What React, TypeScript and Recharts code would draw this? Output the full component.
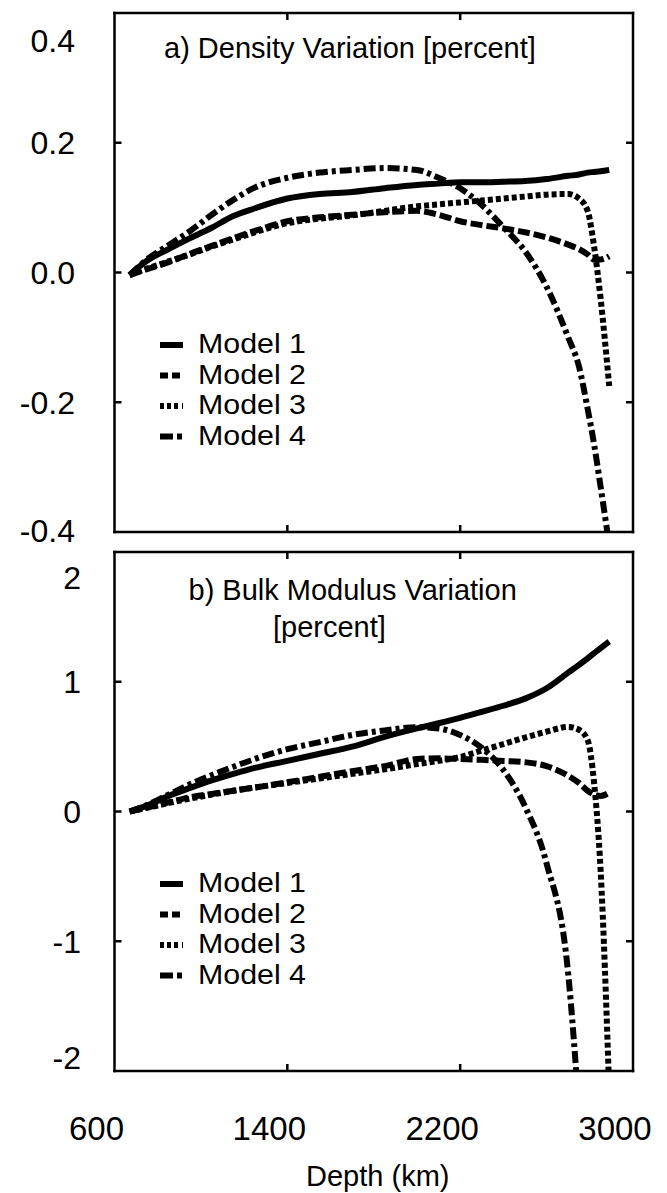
import React from "react";
import { LineChart, Line, XAxis, YAxis, Legend } from "recharts";

// depth grid (km) shared by all curves
const depths = [670, 750, 850, 950, 1050, 1150, 1250, 1400, 1550, 1700, 1850, 2000, 2100, 2200, 2300, 2400, 2500, 2600, 2700, 2750, 2790, 2820, 2850, 2890];

// a) density variation [percent]
const densityModel1 = [-0.004, 0.018, 0.036, 0.053, 0.069, 0.087, 0.099, 0.114, 0.121, 0.124, 0.13, 0.135, 0.137, 0.139, 0.139, 0.14, 0.141, 0.144, 0.149, 0.151, 0.154, 0.155, 0.156, 0.158];
const densityModel2 = [-0.004, 0.005, 0.016, 0.029, 0.041, 0.053, 0.064, 0.079, 0.085, 0.089, 0.093, 0.095, 0.089, 0.079, 0.073, 0.068, 0.062, 0.054, 0.043, 0.036, 0.028, 0.02, 0.02, 0.025];
const densityModel3 = [-0.004, 0.006, 0.017, 0.028, 0.04, 0.051, 0.062, 0.076, 0.083, 0.088, 0.095, 0.102, 0.105, 0.108, 0.111, 0.114, 0.117, 0.12, 0.121, 0.114, 0.095, 0.04, -0.04, -0.175];
const densityModel4 = [-0.004, 0.02, 0.042, 0.064, 0.089, 0.112, 0.131, 0.146, 0.154, 0.158, 0.161, 0.158, 0.146, 0.13, 0.104, 0.07, 0.033, -0.022, -0.1, -0.145, -0.21, -0.265, -0.33, -0.42];

// b) bulk modulus variation [percent]
const bulkModel1 = [0, 0.045, 0.12, 0.182, 0.24, 0.29, 0.336, 0.39, 0.445, 0.5, 0.575, 0.64, 0.68, 0.722, 0.768, 0.815, 0.87, 0.95, 1.07, 1.13, 1.18, 1.22, 1.26, 1.31];
const bulkModel2 = [0, 0.03, 0.07, 0.11, 0.135, 0.16, 0.185, 0.225, 0.268, 0.31, 0.35, 0.405, 0.41, 0.405, 0.398, 0.39, 0.38, 0.35, 0.275, 0.22, 0.16, 0.13, 0.12, 0.145];
const bulkModel3 = [0, 0.028, 0.065, 0.1, 0.13, 0.16, 0.185, 0.22, 0.255, 0.29, 0.325, 0.365, 0.39, 0.42, 0.47, 0.52, 0.57, 0.615, 0.652, 0.63, 0.55, 0.22, -0.45, -2.15];
const bulkModel4 = [0, 0.05, 0.13, 0.21, 0.28, 0.345, 0.405, 0.48, 0.535, 0.59, 0.625, 0.65, 0.64, 0.59, 0.49, 0.32, 0.04, -0.4, -1.25, -2.3, null, null, null, null];

const depthTicks = [600, 1400, 2200, 3000];
const densityTicks = [-0.4, -0.2, 0, 0.2, 0.4];
const bulkTicks = [-2, -1, 0, 1, 2];
const modelNames = ["Model 1", "Model 2", "Model 3", "Model 4"];

const FONT = "'Liberation Sans', Arial, Helvetica, sans-serif";
const INK = "#000";
const lineDash = ["", "12 4", "5 3", "12 4 4 4"];
const legendDash = ["", "8 4 8", "4 3 4 3 4", "13 4 5"];
const TICK = 7;

function buildRows(series: (number | null)[][]) {
  return depths.map((depth, i) => {
    const row: Record<string, number | null> = { depth };
    series.forEach((s, k) => {
      row["m" + (k + 1)] = s[i];
    });
    return row;
  });
}

const densityRows = buildRows([densityModel1, densityModel2, densityModel3, densityModel4]);
const bulkRows = buildRows([bulkModel1, bulkModel2, bulkModel3, bulkModel4]);

// legend rows are packed tight in the original, text a bit wide
function ModelLegend() {
  const step = 30.5;
  return (
    <svg width={210} height={130}>
      {modelNames.map((name, i) => (
        <g key={name}>
          <line x1={5} x2={28} y1={20 + step * i} y2={20 + step * i} stroke={INK} strokeWidth={6} strokeDasharray={legendDash[i] || undefined} />
          <text
            x={43}
            y={28 + step * i}
            fontSize={27}
            fontFamily={FONT}
            fill={INK}
            textLength={108}
            lengthAdjust="spacingAndGlyphs"
          >
            {name}
          </text>
        </g>
      ))}
    </svg>
  );
}

type PanelProps = {
  rows: Record<string, number | null>[];
  yDomain: [number, number];
  yTicks: number[];
  fmt: (v: number) => string;
  height: number;
  margin: { top: number; right: number; bottom: number; left: number };
  bottomAxisHeight: number;
  labelGap: number;
  topShift: number;
  bottomShift: number;
  showDepth: boolean;
  legendTop: number;
};

function Panel(p: PanelProps) {
  const [lo, hi] = p.yDomain;
  const frame = { stroke: INK, strokeWidth: 2.5, strokeLinecap: "square" as const };

  const leftTick = (t: any) => {
    const v = t.payload.value;
    const edge = v === lo || v === hi;
    const shift = v === hi ? p.topShift : v === lo ? p.bottomShift : 0;
    return (
      <g>
        {!edge && <line x1={t.x} x2={t.x + TICK} y1={t.y} y2={t.y} stroke={INK} strokeWidth={2.5} />}
        <text x={t.x - p.labelGap} y={t.y + shift + 11.5} textAnchor="end" fontSize={32} fontFamily={FONT} fill={INK}>
          {p.fmt(v)}
        </text>
      </g>
    );
  };

  const rightTick = (t: any) => {
    const v = t.payload.value;
    if (v === lo || v === hi) return <g />;
    return <line x1={t.x} x2={t.x - TICK} y1={t.y} y2={t.y} stroke={INK} strokeWidth={2.5} />;
  };

  const topTick = (t: any) => {
    const v = t.payload.value;
    if (v === 600 || v === 3000) return <g />;
    return <line x1={t.x} x2={t.x} y1={t.y} y2={t.y + TICK} stroke={INK} strokeWidth={2.5} />;
  };

  const bottomTick = (t: any) => {
    const v = t.payload.value;
    const edge = v === 600 || v === 3000;
    return (
      <g>
        {!edge && <line x1={t.x} x2={t.x} y1={t.y} y2={t.y - TICK} stroke={INK} strokeWidth={2.5} />}
        {p.showDepth && (
          <text x={t.x - 18} y={t.y + 69} textAnchor="middle" fontSize={33} fontFamily={FONT} fill={INK}>
            {v}
          </text>
        )}
      </g>
    );
  };

  return (
    <LineChart width={667} height={p.height} data={p.rows} margin={p.margin}>
      <XAxis
        dataKey="depth"
        type="number"
        domain={[600, 3000]}
        ticks={depthTicks}
        interval={0}
        allowDataOverflow
        height={p.bottomAxisHeight}
        axisLine={frame}
        tickLine={false}
        tickSize={0}
        tickMargin={0}
        tick={bottomTick}
        label={
          p.showDepth
            ? { value: "Depth (km)", position: "insideBottom", offset: -5, dx: 4, fontSize: 29, fontFamily: FONT, fill: INK }
            : undefined
        }
      />
      <XAxis
        xAxisId="top"
        orientation="top"
        dataKey="depth"
        type="number"
        domain={[600, 3000]}
        ticks={depthTicks}
        interval={0}
        allowDataOverflow
        height={5}
        axisLine={frame}
        tickLine={false}
        tickSize={0}
        tickMargin={0}
        tick={topTick}
      />
      <YAxis
        type="number"
        domain={p.yDomain}
        ticks={p.yTicks}
        interval={0}
        allowDataOverflow
        width={60}
        axisLine={frame}
        tickLine={false}
        tickSize={0}
        tickMargin={0}
        tick={leftTick}
      />
      <YAxis
        yAxisId="right"
        orientation="right"
        type="number"
        domain={p.yDomain}
        ticks={p.yTicks}
        interval={0}
        allowDataOverflow
        width={10}
        axisLine={frame}
        tickLine={false}
        tickSize={0}
        tickMargin={0}
        tick={rightTick}
      />
      <Legend
        content={<ModelLegend />}
        layout="horizontal"
        verticalAlign="middle"
        align="center"
        wrapperStyle={{ left: 155, top: p.legendTop, width: 210, height: 130 }}
      />
      {modelNames.map((name, i) => (
        <Line
          key={name}
          name={name}
          dataKey={"m" + (i + 1)}
          type="monotone"
          stroke={INK}
          strokeWidth={6}
          strokeDasharray={lineDash[i] || undefined}
          dot={false}
          activeDot={false}
          isAnimationActive={false}
        />
      ))}
    </LineChart>
  );
}

const titleStyle: React.CSSProperties = {
  position: "absolute",
  fontSize: 29,
  lineHeight: 1,
  whiteSpace: "nowrap",
  color: INK,
  fontFamily: FONT,
};

export default function App() {
  return (
    <div style={{ position: "absolute", left: 0, top: 0, width: 667, height: 1193, background: "#fff", fontFamily: FONT }}>
      <div style={{ position: "absolute", left: 0, top: 0 }}>
        <Panel
          rows={densityRows}
          yDomain={[-0.4, 0.4]}
          yTicks={densityTicks}
          fmt={(v) => v.toFixed(1)}
          height={560}
          margin={{ top: 8, right: 24, bottom: 23, left: 54.5 }}
          bottomAxisHeight={5}
          labelGap={39.5}
          topShift={27}
          bottomShift={-2}
          showDepth={false}
          legendTop={325}
        />
      </div>
      <div style={{ position: "absolute", left: 0, top: 540 }}>
        <Panel
          rows={bulkRows}
          yDomain={[-2, 2]}
          yTicks={bulkTicks}
          fmt={(v) => String(v)}
          height={653}
          margin={{ top: 7, right: 24, bottom: 12, left: 54.5 }}
          bottomAxisHeight={110}
          labelGap={33.5}
          topShift={25}
          bottomShift={-14}
          showDepth={true}
          legendTop={324}
        />
      </div>
      <div style={{ ...titleStyle, left: 164, top: 33.5 }}>a) Density Variation [percent]</div>
      <div style={{ ...titleStyle, left: 188.5, top: 575.5 }}>b) Bulk Modulus Variation</div>
      <div style={{ ...titleStyle, left: 273, top: 612.5 }}>[percent]</div>
    </div>
  );
}
